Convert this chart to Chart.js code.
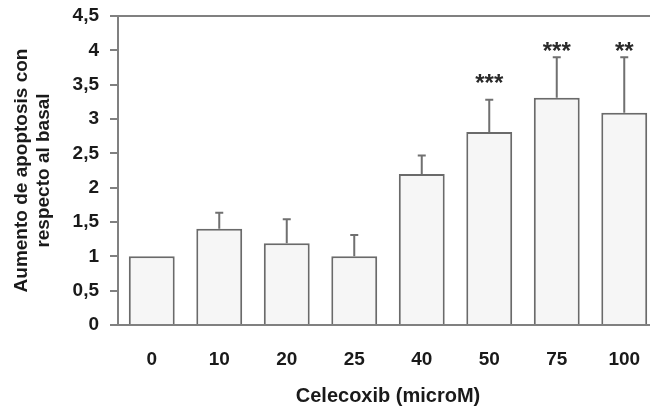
<!DOCTYPE html>
<html lang="es">
<head>
  <meta charset="UTF-8">
  <title>Apoptosis vs Celecoxib</title>
  <style>
    html, body {
      margin: 0;
      padding: 0;
      background: #ffffff;
      overflow: hidden;
    }
    .wrap {
      width: 660px;
      height: 409px;
    }
  </style>
</head>
<body>
  <div class="wrap">
    <canvas id="chart" width="660" height="409"></canvas>
  </div>

  <script src="https://cdn.jsdelivr.net/npm/chart.js"></script>
  <script>
    // data
    const doses = ['0', '10', '20', '25', '40', '50', '75', '100'];
    const apoptosis = [1.0, 1.40, 1.19, 1.0, 2.20, 2.81, 3.31, 3.09];
    const errUp = [0, 0.235, 0.35, 0.31, 0.27, 0.47, 0.59, 0.81];
    const stars = ['', '', '', '', '', '***', '***', '**'];
    const starLevel = [null, null, null, null, null, 3.60, 4.06, 4.06];
    const yTicks = [0, 0.5, 1, 1.5, 2, 2.5, 3, 3.5, 4, 4.5];

    const FONT = 'Arial, "Liberation Sans", sans-serif';
    const AXIS = '#808080';
    const TEXT = '#1a1a1a';

    // upper error bars + significance stars
    const extras = {
      id: 'extras',
      afterDatasetsDraw(chart) {
        const ctx = chart.ctx;
        const x = chart.scales.x;
        const y = chart.scales.y;
        ctx.save();
        ctx.strokeStyle = '#707070';
        ctx.lineWidth = 2;
        apoptosis.forEach((v, i) => {
          if (!errUp[i]) return;
          const cx = x.getPixelForValue(i);
          const y0 = y.getPixelForValue(v);
          const y1 = y.getPixelForValue(v + errUp[i]);
          ctx.beginPath();
          ctx.moveTo(cx, y0);
          ctx.lineTo(cx, y1);
          ctx.moveTo(cx - 4, y1);
          ctx.lineTo(cx + 4, y1);
          ctx.stroke();
        });
        ctx.fillStyle = '#2a2a2a';
        ctx.font = 'bold 24px ' + FONT;
        ctx.textAlign = 'center';
        ctx.textBaseline = 'alphabetic';
        stars.forEach((s, i) => {
          if (!s) return;
          const cx = x.getPixelForValue(i);
          const cy = y.getPixelForValue(starLevel[i]);
          ctx.fillText(s, cx, cy + 13);
        });
        ctx.restore();
      }
    };

    new Chart(document.getElementById('chart'), {
      type: 'bar',
      data: {
        labels: doses,
        datasets: [{
          data: apoptosis,
          backgroundColor: '#f6f6f6',
          borderColor: '#6a6a6a',
          borderWidth: 2,
          barPercentage: 0.68,
          categoryPercentage: 1.0
        }]
      },
      options: {
        responsive: false,
        animation: false,
        layout: { padding: { top: 16, right: 2, bottom: 0, left: 0 } },
        plugins: {
          legend: { display: false },
          tooltip: { enabled: false }
        },
        scales: {
          x: {
            afterFit(scale) {
              scale.height = 84;
              scale.paddingLeft = 0;
              scale.paddingRight = 0;
            },
            grid: { display: false, drawTicks: false },
            border: { color: AXIS, width: 2 },
            ticks: {
              padding: 23,
              color: TEXT,
              font: { family: FONT, size: 19, weight: 'bold' }
            },
            title: {
              display: true,
              text: 'Celecoxib (microM)',
              color: TEXT,
              font: { family: FONT, size: 20, weight: 'bold' },
              padding: { top: 0, bottom: 1 }
            }
          },
          y: {
            min: 0,
            max: 4.5,
            afterFit(scale) {
              scale.width = 118;
              scale.paddingTop = 0;
              scale.paddingBottom = 0;
            },
            afterBuildTicks(scale) {
              scale.ticks = yTicks.map(v => ({ value: v }));
            },
            grid: {
              color: c => (c.tick && c.tick.value === 4.5) ? AXIS : 'rgba(0,0,0,0)',
              lineWidth: 2,
              tickColor: AXIS,
              tickLength: 8,
              drawTicks: true
            },
            border: { color: AXIS, width: 2 },
            ticks: {
              padding: 11,
              color: TEXT,
              font: { family: FONT, size: 19, weight: 'bold' },
              callback: v => String(v).replace('.', ',')
            },
            title: {
              display: true,
              text: ['Aumento de apoptosis con', 'respecto al basal'],
              color: TEXT,
              font: { family: FONT, size: 19, weight: 'bold', lineHeight: 1.15 },
              padding: { top: 11, bottom: 0 }
            }
          }
        }
      },
      plugins: [extras]
    });
  </script>
</body>
</html>
